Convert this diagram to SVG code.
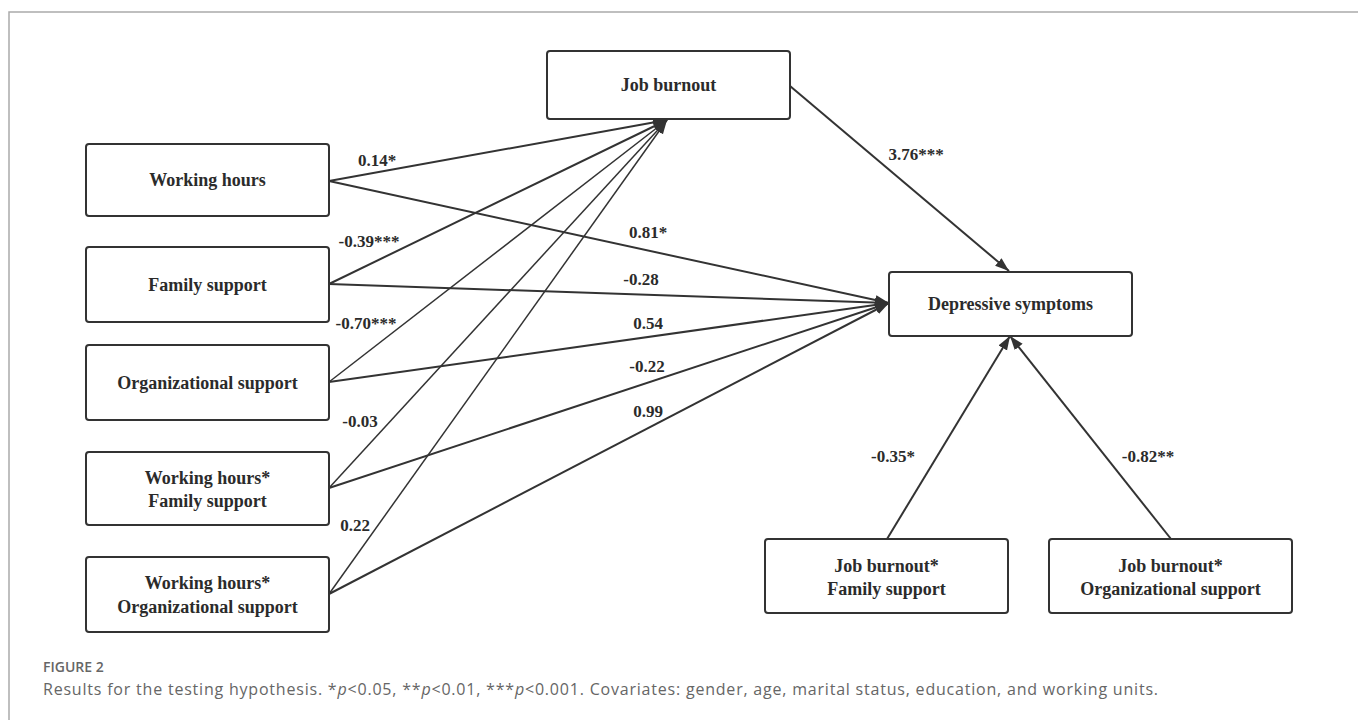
<svg xmlns="http://www.w3.org/2000/svg" width="1358" height="720" viewBox="0 0 1358 720">
<style>
.box{fill:#fff;stroke:#333;stroke-width:2}
.nt{font-family:"Liberation Serif","Times New Roman",serif;font-weight:bold;font-size:18px;fill:#2b2b2b;text-anchor:middle}
.lb{font-family:"Liberation Serif","Times New Roman",serif;font-weight:bold;font-size:17px;fill:#2b2b2b;text-anchor:middle}
.ed{stroke:#333;stroke-width:2;fill:none;marker-end:url(#ah)}
.thin{stroke-width:1.5}
.cap{font-family:"Open Sans","Liberation Sans",sans-serif;fill:#666}
</style>
<defs>
<marker id="ah" markerUnits="userSpaceOnUse" markerWidth="15" markerHeight="11" refX="14" refY="5" orient="auto">
<path d="M0,0 L14,5 L0,10 z" fill="#333"/>
</marker>
</defs>
<rect width="1358" height="720" fill="#fff"/>
<path d="M9,720 V12 H1358" fill="none" stroke="#aaa" stroke-width="1.5"/>
<g id="connectors">
<line class="ed" x1="329" y1="181" x2="667" y2="120"/>
<line class="ed" x1="329" y1="284" x2="667" y2="120"/>
<line class="ed thin" x1="329" y1="382" x2="667" y2="120"/>
<line class="ed thin" x1="329" y1="488" x2="667" y2="120"/>
<line class="ed thin" x1="329" y1="594" x2="667" y2="120"/>
<line class="ed" x1="329" y1="181" x2="889" y2="303"/>
<line class="ed" x1="329" y1="284" x2="889" y2="303"/>
<line class="ed" x1="329" y1="382" x2="889" y2="303"/>
<line class="ed" x1="329" y1="488" x2="889" y2="303"/>
<line class="ed" x1="329" y1="594" x2="889" y2="303"/>
<line class="ed" x1="790" y1="86" x2="1009" y2="271"/>
<line class="ed" x1="887" y1="539" x2="1010" y2="336"/>
<line class="ed" x1="1171" y1="539" x2="1010" y2="336"/>
<text class="lb" x="377" y="166">0.14*</text>
<text class="lb" x="369" y="247">-0.39***</text>
<text class="lb" x="366" y="329">-0.70***</text>
<text class="lb" x="360" y="427">-0.03</text>
<text class="lb" x="355" y="531">0.22</text>
<text class="lb" x="648" y="238">0.81*</text>
<text class="lb" x="641" y="285">-0.28</text>
<text class="lb" x="648" y="329">0.54</text>
<text class="lb" x="647" y="372">-0.22</text>
<text class="lb" x="648" y="417">0.99</text>
<text class="lb" x="916" y="160">3.76***</text>
<text class="lb" x="893" y="462">-0.35*</text>
<text class="lb" x="1148" y="462">-0.82**</text>
</g>
<g id="working-hours">
<rect class="box" x="86" y="144" width="243" height="72" rx="3"/>
<text class="nt" x="207.5" y="186">Working hours</text>
</g>
<g id="family-support">
<rect class="box" x="86" y="247" width="243" height="75" rx="3"/>
<text class="nt" x="207.5" y="290.5">Family support</text>
</g>
<g id="organizational-support">
<rect class="box" x="86" y="345" width="243" height="75" rx="3"/>
<text class="nt" x="207.5" y="388.5">Organizational support</text>
</g>
<g id="wh-fs">
<rect class="box" x="86" y="452" width="243" height="73" rx="3"/>
<text class="nt" x="207.5" y="483.5">Working hours*</text>
<text class="nt" x="207.5" y="507">Family support</text>
</g>
<g id="wh-os">
<rect class="box" x="86" y="557" width="243" height="75" rx="3"/>
<text class="nt" x="207.5" y="589">Working hours*</text>
<text class="nt" x="207.5" y="612.5">Organizational support</text>
</g>
<g id="job-burnout">
<rect class="box" x="547" y="51" width="243" height="68" rx="3"/>
<text class="nt" x="668.5" y="91">Job burnout</text>
</g>
<g id="depressive-symptoms">
<rect class="box" x="889" y="272" width="243" height="64" rx="3"/>
<text class="nt" x="1010.5" y="310">Depressive symptoms</text>
</g>
<g id="jb-fs">
<rect class="box" x="765" y="539" width="243" height="74" rx="3"/>
<text class="nt" x="886.5" y="572">Job burnout*</text>
<text class="nt" x="886.5" y="594.5">Family support</text>
</g>
<g id="jb-os">
<rect class="box" x="1049" y="539" width="243" height="74" rx="3"/>
<text class="nt" x="1170.5" y="572">Job burnout*</text>
<text class="nt" x="1170.5" y="594.5">Organizational support</text>
</g>
<text class="cap" x="43" y="672" font-size="14" font-weight="600">FIGURE 2</text>
<text class="cap" x="43" y="695" font-size="16" textLength="1115" lengthAdjust="spacing">Results for the testing hypothesis. *<tspan font-style="italic">p</tspan>&lt;0.05, **<tspan font-style="italic">p</tspan>&lt;0.01, ***<tspan font-style="italic">p</tspan>&lt;0.001. Covariates: gender, age, marital status, education, and working units.</text>
</svg>
